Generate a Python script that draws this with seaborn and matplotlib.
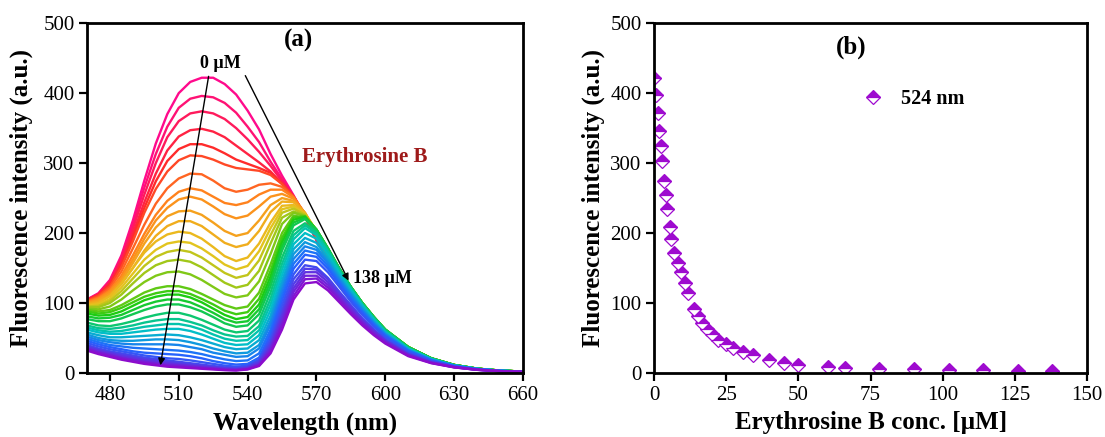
import matplotlib
matplotlib.use("Agg")
import matplotlib.pyplot as plt
from matplotlib.colors import LinearSegmentedColormap, to_hex
import pandas as pd
import seaborn as sns

# ---------------------------------------------------------------------------
# (a) emission spectra recorded during the titration with Erythrosine B
# ---------------------------------------------------------------------------
wavelength_nm = [470, 475, 480, 485, 490, 495, 500, 505, 510, 515,
                 520, 525, 530, 535, 540, 545, 550, 555, 560, 565,
                 570, 575, 580, 585, 590, 595, 600,
                 610, 620, 630, 640, 650, 660]

sp00 = [105, 114, 133, 168, 218, 275, 328, 370, 400, 416, 422, 422, 413, 398, 375, 348, 313, 282, 254, 224, 190, 161, 135, 112, 91, 72, 55, 34, 19, 10.5, 6, 3, 2]
sp01 = [104.5, 113, 131, 165, 212, 265, 313, 352, 379, 392, 396, 394, 386, 372, 352, 330, 302, 277, 253, 224, 190, 161, 135, 112, 91, 72, 55, 34, 19, 10.5, 6, 3, 2]
sp02 = [104, 112.5, 130, 162, 206, 255, 300, 337, 360, 371, 374, 371, 363, 350, 334, 316, 296, 274, 252, 224, 191, 162, 136, 113, 92, 73, 56, 34, 19, 10.5, 6, 3.1, 2]
sp03 = [104, 112, 128, 158, 199, 244, 285, 318, 338, 347, 349, 345, 337, 325, 313, 301, 288, 271, 252, 225, 191, 162, 136, 113, 92, 73, 56, 34.5, 19.5, 10.7, 6, 3.1, 2]
sp04 = [103.5, 111.5, 126, 154, 193, 236, 274, 303, 320, 327, 327, 322, 314, 305, 299, 293, 286, 270, 252, 225, 192, 163, 137, 113, 92, 73, 56.5, 34.5, 19.5, 10.8, 6, 3.1, 2]
sp05 = [103, 110.5, 124, 151, 188, 229, 263, 288, 304, 311, 310, 305, 298, 293, 291, 289, 283, 270, 252, 226, 193, 164, 138, 114, 93, 74, 57, 35, 20, 11, 6, 3.2, 2]
sp06 = [102, 108.5, 121, 145, 178, 212, 242, 264, 278, 285, 284, 275, 264, 259, 262, 269, 271, 266, 252, 228, 196, 167, 140, 116, 95, 75, 58, 36, 20, 11, 6, 3.3, 2]
sp07 = [101, 107, 118, 139, 168, 199, 226, 246, 259, 264, 261, 252, 243, 240, 244, 255, 262, 262, 251, 228, 197, 168, 141, 117, 96, 76, 59, 36, 20.5, 11.2, 6.1, 3.3, 2]
sp08 = [100, 105.5, 116, 135, 162, 192, 218, 236, 248, 252, 248, 238, 227, 221, 225, 238, 252, 256, 249, 228, 198, 169, 142, 118, 96.5, 77, 59.5, 36.5, 20.7, 11.3, 6.1, 3.3, 2]
sp09 = [99, 104, 113, 131, 157, 185, 208, 224, 231, 232, 226, 215, 203, 196, 200, 218, 240, 250, 246, 229, 200, 171, 144, 119, 97, 77.5, 60, 36.5, 20.8, 11.4, 6.1, 3.3, 2]
sp10 = [98, 102, 110, 127, 150, 175, 196, 210, 217, 217, 210, 198, 186, 180, 184, 203, 230, 245, 244, 229, 202, 173, 145, 120, 98, 78, 60.5, 37, 21, 11.5, 6.2, 3.4, 2]
sp11 = [97, 100, 110, 128, 150, 172, 188, 198, 202, 200, 192, 180, 167, 160, 165, 185, 215, 239, 240, 228, 203, 175, 147, 121, 99, 79, 61, 37, 21, 11.5, 6.2, 3.4, 2]
sp12 = [96, 98, 106, 122, 142, 162, 176, 185, 188, 186, 178, 167, 155, 148, 153, 174, 207, 234, 238, 227, 203, 175, 147, 121, 99, 79, 61, 37, 21, 11.5, 6.2, 3.4, 2]
sp13 = [95, 96, 103, 117, 135, 153, 166, 173, 176, 173, 165, 154, 143, 136, 140, 161, 197, 229, 235, 226, 203, 175, 147, 121, 99, 79, 61, 37, 21, 11.5, 6.2, 3.4, 2]
sp14 = [94, 94, 100, 112, 128, 143, 154, 160, 162, 159, 151, 140, 129, 122, 126, 146, 185, 222, 231, 225, 204, 176, 148, 122, 100, 80, 61.5, 37, 21, 11.5, 6.2, 3.4, 2]
sp15 = [92, 91, 95, 105, 118, 130, 139, 144, 145, 141, 133, 123, 113, 108, 111, 131, 170, 213, 229, 224, 204, 176, 148, 122, 100, 80, 61.5, 37, 21, 11.5, 6.2, 3.4, 2]
sp16 = [90, 88, 90, 97, 106, 115, 121, 124, 124, 120, 113, 105, 97, 92, 95, 115, 155, 200, 225, 222, 204, 177, 149, 123, 100, 80, 62, 37, 21, 11.5, 6.2, 3.4, 2]
sp17 = [88, 85, 87, 93, 101, 109, 114, 117, 117, 113, 106, 98, 89, 84, 87, 106, 146, 193, 222, 224, 205, 178, 149, 123, 100, 80, 62, 37, 21, 11.5, 6.2, 3.4, 2]
sp18 = [85, 82, 83, 88, 96, 104, 109, 112, 112, 108, 101, 92, 83, 77, 80, 98, 138, 187, 219, 223, 205, 178, 149, 123, 100, 80, 62, 37, 21, 11.5, 6.2, 3.4, 2]
sp19 = [81, 78, 79, 83, 90, 97, 102, 105, 105, 101, 94, 86, 77, 72, 74, 91, 131, 181, 215, 222, 205, 178, 149, 123, 100, 80, 62, 37, 21, 11.4, 6.2, 3.4, 2]
sp20 = [77, 74, 74, 78, 84, 90, 95, 98, 98, 94, 88, 80, 71, 66, 68, 84, 124, 175, 211, 220, 204, 178, 149, 123, 100, 80, 62, 37, 21, 11.3, 6.1, 3.4, 2]
sp21 = [72, 68, 67, 70, 74, 79, 83, 86, 86, 82, 76, 69, 62, 58, 60, 75, 115, 165, 203, 214, 202, 176, 148, 122, 99, 79, 61, 36, 20.5, 11, 6, 3.3, 2]
sp22 = [68, 64, 63, 65, 68, 72, 75, 77, 77, 73, 68, 61, 55, 52, 53, 67, 106, 156, 197, 211, 200, 175, 147, 121, 98, 78, 60, 35.5, 20.3, 11, 6, 3.3, 2]
sp23 = [65, 61, 59, 60, 63, 66, 68, 70, 70, 67, 62, 55, 49, 46, 47, 61, 98, 148, 191, 207, 197, 173, 145, 120, 97, 77, 59, 35, 20, 10.9, 5.9, 3.2, 2]
sp24 = [62, 58, 56, 56, 58, 60, 62, 63, 63, 60, 55, 49, 43, 40, 41, 54, 90, 140, 184, 200, 192, 169, 142, 118, 96, 76, 58, 34.5, 19.7, 10.8, 5.9, 3.2, 2]
sp25 = [58, 54, 51, 51, 52, 53, 54, 55, 54, 51, 47, 42, 37, 34, 35, 47, 82, 132, 177, 193, 186, 164, 139, 115, 94, 74, 57, 33.5, 19.3, 10.6, 5.8, 3.1, 1.9]
sp26 = [55, 50, 47, 46, 46, 47, 48, 48, 47, 44, 40, 35, 31, 28, 29, 40, 75, 125, 170, 187, 180, 160, 136, 113, 92, 73, 56, 33, 19, 10.5, 5.7, 3.1, 1.9]
sp27 = [52, 47, 44, 42, 41, 41, 41, 41, 40, 37, 34, 29, 26, 23, 24, 35, 69, 118, 163, 181, 176, 157, 133, 111, 90, 71, 55, 32.5, 18.6, 10.3, 5.6, 3, 1.8]
sp28 = [49, 44, 40, 38, 36, 35, 34, 33, 32, 30, 27, 23, 19.5, 17, 18, 28, 62, 111, 156, 175, 171, 153, 130, 108, 88, 70, 54, 32, 18.3, 10.1, 5.5, 3, 1.8]
sp29 = [46, 41, 37, 34, 31, 29, 28, 27, 26, 24, 21, 17, 14, 12, 13, 22, 56, 104, 149, 169, 166, 149, 127, 105, 86, 68, 52.5, 31, 17.8, 9.8, 5.4, 2.9, 1.8]
sp30 = [43, 38, 34, 31, 28, 25, 23, 21, 20, 18, 15.5, 13, 10.5, 9, 10.5, 19, 50, 97, 141, 162, 160, 144, 123, 102, 83, 66, 51, 30, 17.2, 9.5, 5.2, 2.8, 1.7]
sp31 = [40, 35, 31, 28, 25, 22, 20, 18, 16, 14, 12, 10, 8, 7, 9, 18, 45, 90, 134, 154, 151, 136, 116, 97, 78, 62, 48, 28, 16, 9, 5, 2.8, 1.7]
sp32 = [38, 33, 29, 26, 23, 20, 18, 16, 14, 12, 10.5, 8.5, 7, 6, 8, 16, 41, 84, 127, 149, 148, 134, 114, 95, 77, 61, 47, 27, 15.5, 8.7, 4.8, 2.7, 1.6]
sp33 = [37, 32, 28, 24, 21, 18, 16, 14, 12, 10.5, 9, 7.5, 6, 5, 7, 14, 37, 79, 121, 144, 144, 130, 111, 93, 75, 60, 46, 26.5, 15.2, 8.5, 4.7, 2.6, 1.6]
sp34 = [35, 30, 26, 22, 19, 16, 14, 12, 11, 9.5, 8, 6.5, 5, 4.5, 6, 12, 34, 73, 116, 139, 139, 126, 108, 90, 73, 58, 45, 25.8, 14.8, 8.3, 4.6, 2.6, 1.5]
sp35 = [34, 29, 25, 21, 18, 15, 12.5, 10.5, 9.5, 8, 7, 6, 4.5, 4, 5.5, 11, 31, 68, 110, 134, 135, 122, 105, 87, 71, 56, 43.5, 25, 14.4, 8.1, 4.5, 2.5, 1.5]
sp36 = [32, 27, 23, 19, 16, 13, 11, 9, 8, 7, 6, 5, 4, 3.5, 5, 10, 28, 62, 105, 128, 130, 118, 101, 84, 68, 54, 42, 24, 14, 8, 4.5, 2.5, 1.5]

# ---------------------------------------------------------------------------
# (b) intensity at 524 nm versus added Erythrosine B
# ---------------------------------------------------------------------------
conc_uM = [0, 0.8, 1.4, 1.8, 2.3, 2.8, 3.5, 4.3, 4.6, 5.5,
           5.9, 7.0, 8.2, 9.3, 10.7, 11.8, 13.8, 15.1, 16.7, 18.4,
           20.1, 22.0, 24.8, 27.4, 30.9, 34.3, 39.9, 45, 49.9, 60.3,
           66.3, 78, 90, 102, 114, 126, 138]
intensity_524 = [422, 398, 372, 346, 324, 303, 275, 254, 235, 208,
                 191, 171, 157, 144, 129, 114, 91, 81, 72, 63,
                 55, 47, 41, 35, 30, 26, 18, 14, 11, 8,
                 7, 6, 5, 4.5, 4, 3.5, 3]

a_xticks = [480, 510, 540, 570, 600, 630, 660]
b_xticks = [0, 25, 50, 75, 100, 125, 150]
yticks = [0, 100, 200, 300, 400, 500]

# ---------------------------------------------------------------------------
sns.set_theme(style="ticks")
plt.rcParams["font.family"] = ["Liberation Serif", "DejaVu Serif"]
plt.rcParams.update({
    "text.color": "black",
    "axes.labelcolor": "black",
    "axes.edgecolor": "black",
    "xtick.color": "black",
    "ytick.color": "black",
    "axes.linewidth": 2.0,
})

fig = plt.figure(figsize=(11.05, 4.37), dpi=100)
ax_a = fig.add_axes([0.0787, 0.1465, 0.3946, 0.8005])
ax_b = fig.add_axes([0.5919, 0.1465, 0.3919, 0.8005])

spectra = [sp00, sp01, sp02, sp03, sp04, sp05, sp06, sp07, sp08, sp09,
           sp10, sp11, sp12, sp13, sp14, sp15, sp16, sp17, sp18, sp19,
           sp20, sp21, sp22, sp23, sp24, sp25, sp26, sp27, sp28, sp29,
           sp30, sp31, sp32, sp33, sp34, sp35, sp36]

levels = [f"{c:g}" for c in conc_uM]
records = []
for lev, sp in zip(levels, spectra):
    for w, v in zip(wavelength_nm, sp):
        records.append({"wavelength": w, "intensity": v, "conc": lev})
df_spec = pd.DataFrame(records)

rainbow = LinearSegmentedColormap.from_list(
    "titration",
    [(0.00, "#ff0a8c"), (0.11, "#ff2b2b"), (0.20, "#ff8a1c"),
     (0.33, "#e6c41e"), (0.50, "#1ccc10"), (0.66, "#00c2c4"),
     (0.80, "#2266ff"), (1.00, "#8c0ccc")])
palette = [to_hex(rainbow(i / (len(levels) - 1))) for i in range(len(levels))]

sns.lineplot(data=df_spec, x="wavelength", y="intensity", hue="conc",
             hue_order=levels, palette=palette, estimator=None, sort=False,
             linewidth=1.7, legend=False, ax=ax_a)

ax_a.annotate("", xy=(502, 11), xytext=(523, 424),
              arrowprops=dict(arrowstyle="-|>", color="black", lw=1.0,
                              mutation_scale=10, shrinkA=0, shrinkB=0))
ax_a.annotate("", xy=(584, 132), xytext=(539, 425),
              arrowprops=dict(arrowstyle="-|>", color="black", lw=1.0,
                              mutation_scale=10, shrinkA=0, shrinkB=0))
ax_a.text(528, 443, "0 \u00b5M", ha="center", va="center",
          fontsize=13, fontweight="bold")
ax_a.text(586, 135, "138 \u00b5M", ha="left", va="center",
          fontsize=13, fontweight="bold")
ax_a.text(563.5, 308, "Erythrosine B", ha="left", va="center",
          fontsize=15, fontweight="bold", color="#9e1a1a")
ax_a.text(562, 475, "(a)", ha="center", va="center",
          fontsize=18, fontweight="bold")

purple = "#9e0bcf"
sns.lineplot(x=conc_uM, y=intensity_524, marker="D", linestyle="",
             markersize=7, color=purple, markeredgecolor=purple,
             markeredgewidth=0.9, fillstyle="top",
             markerfacecoloralt="white", estimator=None, sort=False,
             label="524 nm", ax=ax_b)
ax_b.legend(loc="center left", bbox_to_anchor=(0.458, 0.783), frameon=False,
            handlelength=1.0, handletextpad=0.9, borderpad=0, numpoints=1,
            prop={"size": 14.5, "weight": "bold"})
ax_b.text(68.4, 465, "(b)", ha="center", va="center",
          fontsize=18, fontweight="bold")

ax_a.set_xlim(470, 660)
ax_a.set_xticks(a_xticks)
ax_b.set_xlim(0, 150)
ax_b.set_xticks(b_xticks)

for ax, ypad in ((ax_a, 7), (ax_b, 4)):
    ax.set_ylim(0, 500)
    ax.set_yticks(yticks)
    for side in ("left", "right", "top", "bottom"):
        ax.spines[side].set_visible(True)
        ax.spines[side].set_linewidth(2.0)
        ax.spines[side].set_color("black")
    ax.tick_params(axis="both", which="major", direction="out", length=5.5,
                   width=1.6, labelsize=15, top=False, right=False)
    ax.tick_params(axis="x", pad=4)
    ax.tick_params(axis="y", pad=3.5)
    ax.set_ylabel("Fluorescence intensity (a.u.)", fontsize=18,
                  fontweight="bold", labelpad=ypad)

ax_a.set_xlabel("Wavelength (nm)", fontsize=18, fontweight="bold", labelpad=4.5)
ax_b.set_xlabel("Erythrosine B conc. [\u00b5M]", fontsize=18,
                fontweight="bold", labelpad=4.5)

fig.savefig("out.png", dpi=100)
